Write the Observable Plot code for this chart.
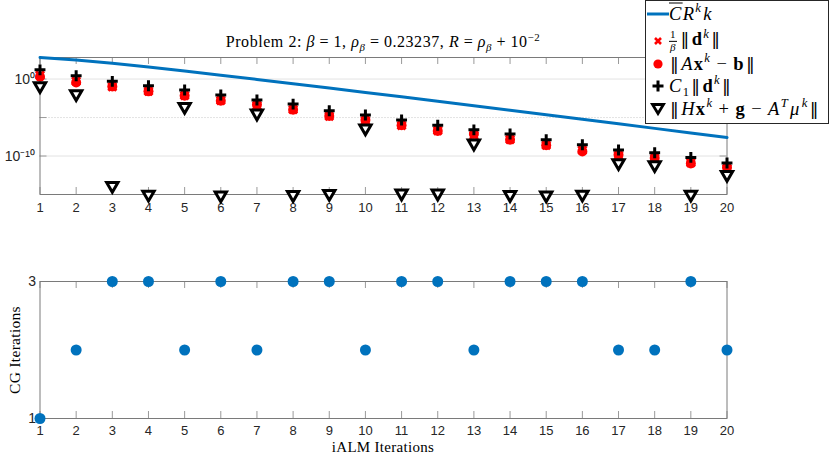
<!DOCTYPE html>
<html>
<head>
<meta charset="utf-8">
<script src="https://cdn.jsdelivr.net/npm/d3@7"></script>
<script src="https://cdn.jsdelivr.net/npm/@observablehq/plot@0.6"></script>
<style>
  body { margin: 0; background: #fff; }
  #wrap { position: relative; width: 830px; height: 454px; overflow: hidden; background: #fff; }
  #wrap svg { position: absolute; left: 0; }
  .serif { font-family: "Liberation Serif", "DejaVu Serif", serif; color: #000; }
  #title { position: absolute; left: 0; width: 766px; top: 33px; text-align: center; font-size: 16px; letter-spacing: 0.55px; white-space: nowrap; }
  #xlabel { position: absolute; left: 0; width: 766px; top: 440px; line-height: 1; text-align: center; font-size: 15px; letter-spacing: 0.3px; white-space: nowrap; }
  #ylabel { position: absolute; left: 15px; top: 350px; line-height: 1; transform: translate(-50%, -50%) rotate(-90deg); font-size: 15.5px; letter-spacing: 0.3px; white-space: nowrap; }
  #legend { position: absolute; left: 645px; top: 0px; width: 182px; height: 122px; border: 1px solid #262626; background: #fff; }
  .row { position: absolute; left: 0; height: 22px; width: 182px; }
  .row svg { position: absolute; left: 0; top: 0; }
  .row .lbl { position: absolute; left: 23px; top: 50%; transform: translateY(-50%); font-size: 18.5px; letter-spacing: 1.3px; white-space: nowrap; }
  .op { margin: 0 0.28em; }
  .nm { margin: 0 0.06em; }
  .nb { font-family: "DejaVu Serif", serif; font-weight: normal; font-size: 0.95em; margin: 0 0.06em; }
  .ov { text-decoration: overline; }
  sup, sub { font-size: 0.68em; line-height: 0; }
  .frac { display: inline-block; vertical-align: middle; text-align: center; font-size: 0.6em; line-height: 1.05; margin-right: 3px; letter-spacing: 0; }
  .frac span { display: block; }
  .frac .num { border-bottom: 0.8px solid #000; padding: 0 1px; }
  b { font-weight: bold; font-style: normal; }
</style>
</head>
<body>
<div id="wrap">
  <div id="title" class="serif">Problem 2: <i>β</i><span class="op">=</span>1, <i>ρ<sub>β</sub></i><span class="op">=</span>0.23237, <i>R</i><span class="op">=</span><i>ρ<sub>β</sub></i><span class="op">+</span>10<sup>−2</sup></div>
  <div id="xlabel" class="serif">iALM Iterations</div>
  <div id="ylabel" class="serif">CG Iterations</div>
</div>
<script>
// ---------- data ----------
const iterations = [1, 2, 3, 4, 5, 6, 7, 8, 9, 10, 11, 12, 13, 14, 15, 16, 17, 18, 19, 20];

// C̄ R^k k bound
const boundValues = [631, 306, 111, 35.9, 10.9, 3.17, 0.895, 0.248, 0.0676, 0.0182,
  4.85e-3, 1.28e-3, 3.37e-4, 8.8e-5, 2.29e-5, 5.91e-6, 1.52e-6, 3.9e-7, 1.0e-7, 2.55e-8];

// (1/β)||d^k||
const dScaled = [3.16, 0.537, 0.1, 0.0269, 7.4e-3, 1.66e-3, 3.7e-4, 1.12e-4, 1.51e-5, 4.2e-6,
  9.5e-7, 2.0e-7, 5.0e-8, 1.45e-8, 2.6e-9, 5.9e-10, 1.2e-10, 5.4e-11, 1.32e-11, 2.5e-12];

// ||A x^k - b||
const residual = [2.0, 0.363, 0.110, 0.0251, 6.8e-3, 1.51e-3, 4.6e-4, 1.02e-4, 1.58e-5, 4.8e-6,
  1.0e-6, 1.78e-7, 7.2e-8, 1.32e-8, 2.5e-9, 4.0e-10, 1.48e-10, 5.5e-11, 1.1e-11, 3.3e-12];

// C1 ||d^k||
const c1d = [15.8, 2.69, 0.501, 0.135, 0.0372, 8.3e-3, 1.86e-3, 5.6e-4, 7.6e-5, 2.09e-5,
  4.8e-6, 1.0e-6, 2.5e-7, 7.2e-8, 1.32e-8, 2.95e-9, 6.0e-10, 2.7e-10, 6.6e-11, 1.26e-11];

// ||H x^k + g - A^T mu^k||
const dualRes = [0.126, 0.0112, 1.38e-14, 1e-15, 2.5e-4, 8e-16, 3.5e-5, 9e-16, 1.26e-15, 4.0e-7,
  1.41e-15, 1.41e-15, 4.4e-9, 9e-16, 8e-16, 1e-15, 1.26e-11, 6.8e-12, 1e-15, 3.7e-13];

// CG iterations per iALM iteration
const cgIterations = [1, 2, 3, 3, 2, 3, 2, 3, 3, 2, 3, 3, 2, 3, 3, 3, 2, 2, 3, 2];

// axis ticks
const topYDomain = [1e-15, 631];
const topYTicks = [1, 1e-10];
const topYTickLabels = ["10⁰", "10⁻¹⁰"];
const topGridSolid = [1, 1e-10];
const topGridDotted = [1e-5];
const topYTickMarks = [1, 1e-5, 1e-10];
const bottomYTicks = [1, 3];

// ---------- tables ----------
const topTable = iterations.map((k, i) => ({
  k, bound: boundValues[i], dScaled: dScaled[i], residual: residual[i], c1d: c1d[i], dual: dualRes[i]
}));
const cgTable = iterations.map((k, i) => ({k, cg: cgIterations[i]}));
const topLabelMap = new Map(topYTicks.map((t, i) => [t, topYTickLabels[i]]));

const blue = "#0072BD";
const frameColor = "#7a7a7a";
const tickColor = "#9a9a9a";
const sansStyle = {fontFamily: "'Liberation Sans', Arial, sans-serif", fontSize: "13px", color: "#262626", background: "transparent", overflow: "visible"};

const W = 830;
const mL = 39.5, mR = 103.5;
const innerW = W - mL - mR;

// ---------- top panel ----------
const topH = 215, topMT = 57, topMB = 21;
const topInnerH = topH - topMT - topMB;
const topPlot = Plot.plot({
  width: W, height: topH,
  marginLeft: mL, marginRight: mR, marginTop: topMT, marginBottom: topMB,
  x: {domain: [1, 20]},
  y: {type: "log", domain: topYDomain},
  style: sansStyle,
  marks: [
    Plot.ruleY(topGridSolid, {y: d => d, stroke: "#e3e3e3", strokeWidth: 1}),
    Plot.ruleY(topGridDotted, {y: d => d, stroke: "#c8c8c8", strokeDasharray: "1,2"}),
    Plot.ruleX(iterations, {x: d => d, insetTop: topInnerH - 7, stroke: tickColor}),
    Plot.ruleX(iterations, {x: d => d, insetBottom: topInnerH - 7, stroke: tickColor}),
    Plot.ruleY(topYTickMarks, {y: d => d, insetRight: innerW - 7, stroke: tickColor}),
    Plot.ruleY(topYTickMarks, {y: d => d, insetLeft: innerW - 7, stroke: tickColor}),
    Plot.frame({stroke: frameColor}),
    Plot.axisX({ticks: iterations, tickSize: 0, tickPadding: 8, label: null, fill: "#262626"}),
    Plot.axisY({ticks: topYTicks, tickFormat: d => topLabelMap.get(d), tickSize: 0, tickPadding: 5, label: null, fill: "#262626", fontSize: 14}),
    Plot.line(topTable, {x: "k", y: "bound", stroke: blue, strokeWidth: 3}),
    Plot.dot(topTable, {x: "k", y: "dScaled", symbol: "times", stroke: "#ff0000", strokeWidth: 3, r: 3.7}),
    Plot.dot(topTable, {x: "k", y: "residual", symbol: "circle", fill: "#ff0000", stroke: "none", r: 5}),
    Plot.dot(topTable, {x: "k", y: "c1d", symbol: "plus", stroke: "#000", strokeWidth: 3, r: 3.6}),
    Plot.dot(topTable, {x: "k", y: "dual", symbol: "triangle2", rotate: 180, stroke: "#000", fill: "#fff", strokeWidth: 3, r: 5.4})
  ]
});
topPlot.style.top = "0px";

// ---------- bottom panel ----------
const botTop = 230, botH = 224, botMT = 51, botMB = 36;
const botInnerH = botH - botMT - botMB;
const bottomPlot = Plot.plot({
  width: W, height: botH,
  marginLeft: mL, marginRight: mR, marginTop: botMT, marginBottom: botMB,
  x: {domain: [1, 20]},
  y: {domain: [1, 3]},
  style: sansStyle,
  marks: [
    Plot.ruleX(iterations, {x: d => d, insetTop: botInnerH - 7, stroke: tickColor}),
    Plot.ruleX(iterations, {x: d => d, insetBottom: botInnerH - 7, stroke: tickColor}),
    Plot.frame({stroke: frameColor}),
    Plot.axisX({ticks: iterations, tickSize: 0, tickPadding: 7, label: null, fill: "#262626"}),
    Plot.axisY({ticks: bottomYTicks, tickFormat: d => String(d), tickSize: 0, tickPadding: 4, label: null, fill: "#262626", fontSize: 14}),
    Plot.dot(cgTable, {x: "k", y: "cg", fill: blue, stroke: "none", r: 5.5})
  ]
});
bottomPlot.style.top = botTop + "px";

const wrap = document.getElementById("wrap");
wrap.insertBefore(bottomPlot, wrap.firstChild);
wrap.insertBefore(topPlot, wrap.firstChild);

// ---------- legend ----------
const N = '<span class="nb">‖</span>';
const legendEntries = [
  {y: 13, html: '<i class="ov">C</i><i>R</i><sup><i>k</i></sup><i class="nm">k</i>', kind: "line"},
  {y: 40, html: `<span class="frac"><span class="num">1</span><span><i>β</i></span></span>${N}<b>d</b><sup><i>k</i></sup>${N}`, kind: "times"},
  {y: 63, html: `${N}<i>A</i><b>x</b><sup><i>k</i></sup><span class="op">−</span><b>b</b>${N}`, kind: "circle"},
  {y: 85, html: `<i>C</i><sub>1</sub>${N}<b>d</b><sup><i>k</i></sup>${N}`, kind: "plus"},
  {y: 108, html: `${N}<i>H</i><b>x</b><sup><i>k</i></sup><span class="op">+</span><b>g</b><span class="op">−</span><i>A</i><sup><i>T</i></sup><i class="nm">μ</i><sup><i>k</i></sup>${N}`, kind: "tri"}
];
const legend = document.createElement("div");
legend.id = "legend";
legend.className = "serif";
for (const e of legendEntries) {
  const row = document.createElement("div");
  row.className = "row";
  row.style.top = (e.y - 11) + "px";
  let sw = "";
  if (e.kind === "line") sw = `<line x1="1" x2="23" y1="11" y2="11" stroke="${blue}" stroke-width="3"/>`;
  if (e.kind === "times") sw = `<path d="M9,8L15,14M15,8L9,14" stroke="#ff0000" stroke-width="2.6"/>`;
  if (e.kind === "circle") sw = `<circle cx="12" cy="11" r="4.6" fill="#ff0000"/>`;
  if (e.kind === "plus") sw = `<path d="M6.5,11H17.5M12,5.5V16.5" stroke="#000" stroke-width="3"/>`;
  if (e.kind === "tri") sw = `<path d="M6.5,6.5H17.5L12,15.5Z" stroke="#000" stroke-width="2.8" fill="#fff" stroke-linejoin="miter"/>`;
  row.innerHTML = `<svg width="24" height="22">${sw}</svg><span class="lbl">${e.html}</span>`;
  legend.appendChild(row);
}
wrap.appendChild(legend);
</script>
</body>
</html>
